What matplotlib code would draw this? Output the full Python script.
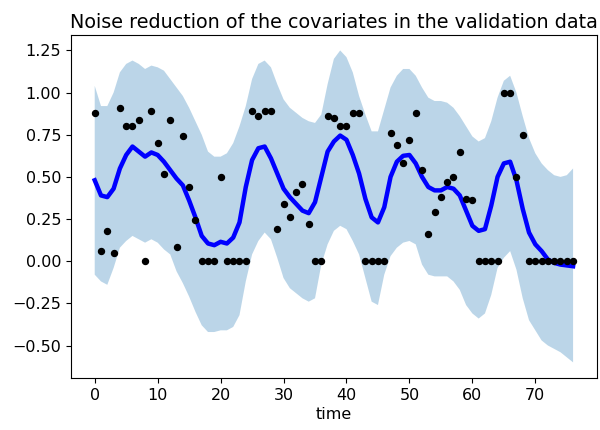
"""
Noise reduction plot: GP mean with confidence band over the observed covariate.
"""

import matplotlib
matplotlib.use("Agg")
import matplotlib.pyplot as plt
import numpy as np

# time steps of the validation data
time = np.arange(77)

# observed covariate values
observed = [0.88, 0.06, 0.18, 0.05, 0.91, 0.80, 0.80, 0.84, 0.00, 0.89,
            0.70, 0.52, 0.84, 0.085, 0.74, 0.44, 0.245, 0.00, 0.00, 0.00,
            0.50, 0.00, 0.00, 0.00, 0.00, 0.89, 0.86, 0.89, 0.89, 0.19,
            0.34, 0.26, 0.41, 0.46, 0.22, 0.00, 0.00, 0.86, 0.85, 0.80,
            0.80, 0.88, 0.88, 0.00, 0.00, 0.00, 0.00, 0.76, 0.69, 0.58,
            0.72, 0.88, 0.54, 0.16, 0.29, 0.38, 0.47, 0.50, 0.65, 0.37,
            0.36, 0.00, 0.00, 0.00, 0.00, 1.00, 1.00, 0.50, 0.75, 0.00,
            0.00, 0.00, 0.00, 0.00, 0.00, 0.00, 0.00]

# smoothed (denoised) mean
mean = [0.48, 0.39, 0.38, 0.43, 0.55, 0.63, 0.68, 0.65, 0.62, 0.645,
        0.63, 0.59, 0.54, 0.49, 0.45, 0.36, 0.26, 0.15, 0.105, 0.095,
        0.115, 0.105, 0.14, 0.23, 0.44, 0.60, 0.67, 0.68, 0.61, 0.52,
        0.43, 0.38, 0.34, 0.30, 0.285, 0.35, 0.50, 0.65, 0.71, 0.745,
        0.72, 0.63, 0.52, 0.37, 0.26, 0.23, 0.32, 0.50, 0.59, 0.625,
        0.63, 0.58, 0.50, 0.44, 0.42, 0.42, 0.44, 0.43, 0.39, 0.30,
        0.21, 0.18, 0.19, 0.33, 0.50, 0.58, 0.59, 0.48, 0.31, 0.17,
        0.10, 0.06, 0.01, -0.01, -0.02, -0.025, -0.03]

# confidence band edges
upper = [1.04, 0.92, 0.92, 1.00, 1.12, 1.17, 1.19, 1.17, 1.14, 1.16,
         1.15, 1.13, 1.08, 1.03, 0.98, 0.91, 0.83, 0.75, 0.65, 0.62,
         0.62, 0.64, 0.70, 0.80, 0.92, 1.08, 1.17, 1.19, 1.15, 1.05,
         0.96, 0.91, 0.88, 0.85, 0.83, 0.82, 0.87, 1.05, 1.20, 1.25,
         1.21, 1.12, 0.98, 0.87, 0.77, 0.77, 0.90, 1.03, 1.10, 1.14,
         1.14, 1.10, 1.03, 0.97, 0.95, 0.95, 0.94, 0.91, 0.86, 0.80,
         0.74, 0.71, 0.73, 0.83, 0.97, 1.07, 1.10, 1.00, 0.86, 0.73,
         0.64, 0.58, 0.54, 0.51, 0.50, 0.51, 0.55]

lower = [-0.08, -0.12, -0.14, -0.04, 0.08, 0.12, 0.15, 0.13, 0.11, 0.13,
         0.11, 0.07, 0.04, -0.06, -0.13, -0.21, -0.30, -0.38, -0.42, -0.42,
         -0.41, -0.41, -0.39, -0.32, -0.12, 0.04, 0.12, 0.17, 0.13, 0.02,
         -0.10, -0.16, -0.19, -0.22, -0.24, -0.22, -0.02, 0.10, 0.18, 0.21,
         0.19, 0.12, 0.04, -0.10, -0.24, -0.26, -0.08, 0.03, 0.08, 0.11,
         0.12, 0.10, -0.02, -0.08, -0.09, -0.09, -0.09, -0.12, -0.17, -0.26,
         -0.31, -0.34, -0.31, -0.20, -0.04, 0.02, 0.06, -0.05, -0.22, -0.35,
         -0.41, -0.47, -0.50, -0.52, -0.54, -0.57, -0.60]

plt.rcParams['font.size'] = 11.5

fig = plt.figure(figsize=(6, 4.3), dpi=100)
ax = fig.add_axes([0.118, 0.121, 0.877, 0.798])

ax.fill_between(time, lower, upper, alpha=0.3, linewidth=0)
ax.plot(time, mean, color='blue', linewidth=3.2, solid_joinstyle='round')
ax.plot(time, observed, 'ko', markersize=4.3)

ax.set_title("Noise reduction of the covariates in the validation data", pad=5)
ax.set_xlabel("time", labelpad=3)

fig.savefig("out.png", dpi=100)
